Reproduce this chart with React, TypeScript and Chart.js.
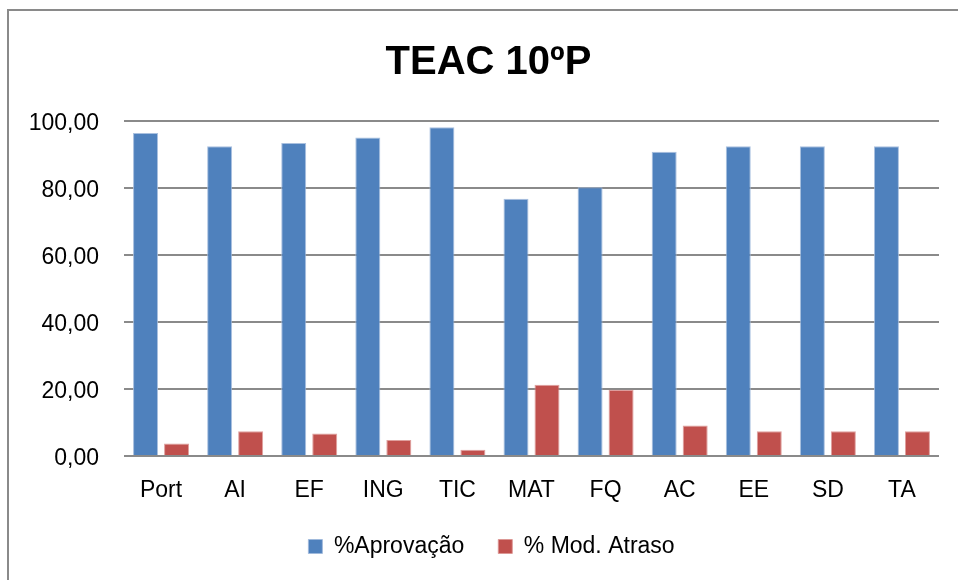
import { useEffect, useRef } from 'react';
import { Chart, registerables } from 'chart.js';

Chart.register(...registerables);

const categories = ['Port', 'AI', 'EF', 'ING', 'TIC', 'MAT', 'FQ', 'AC', 'EE', 'SD', 'TA'];
const aprovacao = [96.4, 92.5, 93.4, 95.1, 98.1, 76.8, 80.2, 90.8, 92.5, 92.5, 92.5];
const modAtraso = [3.7, 7.4, 6.7, 4.8, 1.9, 21.3, 19.8, 9.1, 7.4, 7.4, 7.4];
const yTicks = [0, 20, 40, 60, 80, 100];
const seriesNames = ['%Aprovação', '% Mod. Atraso'];
const titleText = 'TEAC 10ºP';

const FONT = "'Liberation Sans', Arial, sans-serif";

// shifts the title and legend boxes horizontally so they are centred like the reference
const shiftPlugin = {
  id: 'shiftBoxes',
  afterLayout(chart: any) {
    if (chart.titleBlock) {
      chart.titleBlock.left += 19;
      chart.titleBlock.right += 19;
    }
    if (chart.legend) {
      chart.legend.left += 22;
      chart.legend.right += 22;
    }
  },
};

export default function App() {
  const ref = useRef<HTMLCanvasElement | null>(null);

  useEffect(() => {
    if (!ref.current) return;
    const chart = new Chart(ref.current, {
      type: 'bar',
      data: {
        labels: categories,
        datasets: [
          {
            label: seriesNames[0],
            data: aprovacao,
            backgroundColor: '#4F81BD',
            borderColor: 'rgba(160,185,220,0.9)',
            borderWidth: 1,
            categoryPercentage: 0.837,
            barPercentage: 0.806,
          },
          {
            label: seriesNames[1],
            data: modAtraso,
            backgroundColor: '#C0504D',
            borderColor: 'rgba(220,150,148,0.9)',
            borderWidth: 1,
            categoryPercentage: 0.837,
            barPercentage: 0.806,
          },
        ],
      },
      plugins: [shiftPlugin],
      options: {
        animation: false,
        responsive: false,
        devicePixelRatio: 1,
        layout: { padding: { left: 0, right: 19, top: 0, bottom: 12 } },
        plugins: {
          title: {
            display: true,
            text: titleText,
            color: '#000',
            font: { family: FONT, size: 40, weight: 'bold' },
            padding: { top: 39, bottom: 34 },
          },
          legend: {
            position: 'bottom',
            labels: {
              color: '#000',
              boxWidth: 14,
              boxHeight: 14,
              padding: 34,
              font: { family: FONT, size: 23 },
            },
          },
          tooltip: { enabled: false },
        },
        scales: {
          x: {
            grid: { display: false, drawTicks: false },
            border: { display: false },
            ticks: { color: '#000', padding: 21, font: { family: FONT, size: 23 } },
            afterFit: (s: any) => {
              s.height = 45;
              s._computeLabelArea = () => undefined;
            },
          },
          y: {
            min: 0,
            max: 100,
            afterBuildTicks: (s: any) => {
              s.ticks = yTicks.map((v) => ({ value: v }));
            },
            grid: { color: '#8a8a8a', lineWidth: 2, drawTicks: false },
            border: { display: false },
            ticks: {
              color: '#000',
              padding: 25,
              labelOffset: 3,
              font: { family: FONT, size: 23 },
              callback: (v: any) => Number(v).toFixed(2).replace('.', ','),
            },
            afterFit: (s: any) => {
              s.width = 124;
            },
          },
        },
      },
    });
    return () => chart.destroy();
  }, []);

  return (
    <div
      style={{
        position: 'fixed',
        left: 0,
        top: 0,
        width: 958,
        height: 580,
        overflow: 'hidden',
        background: '#fff',
      }}
    >
      <div
        style={{
          position: 'absolute',
          left: 7,
          top: 9,
          width: 1200,
          height: 1200,
          borderLeft: '2px solid #8a8a8a',
          borderTop: '2px solid #8a8a8a',
        }}
      />
      <canvas
        ref={ref}
        width={958}
        height={580}
        style={{ position: 'absolute', left: 0, top: 0, width: 958, height: 580 }}
      />
    </div>
  );
}
